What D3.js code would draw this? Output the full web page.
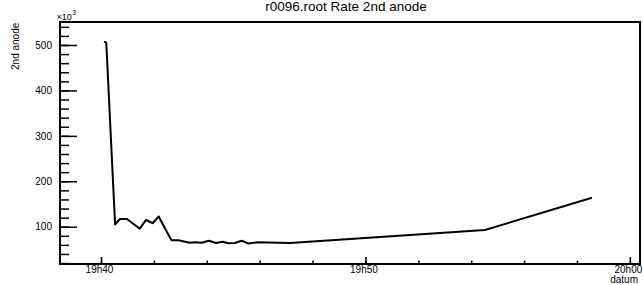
<!DOCTYPE html>
<html>
<head>
<meta charset="utf-8">
<script src="https://cdn.jsdelivr.net/npm/d3@7"></script>
<style>
  html, body { margin: 0; padding: 0; background: #fff; }
  svg { display: block; font-family: "Liberation Sans", Arial, Helvetica, sans-serif; }
</style>
</head>
<body>
<svg id="chart" width="643" height="285"></svg>
<script>
// ---- data ----
const times = ["19:40:07", "19:40:12", "19:40:32", "19:40:43", "19:40:59", "19:41:28", "19:41:42",
  "19:41:57", "19:42:11", "19:42:25", "19:42:40", "19:42:56", "19:43:21", "19:43:33",
  "19:43:48", "19:44:05", "19:44:21", "19:44:36", "19:44:49", "19:45:04", "19:45:19",
  "19:45:34", "19:45:56", "19:47:09", "19:54:31", "19:58:34"];
const rates = [507.5, 505, 104.8, 117, 117, 95.6, 114.7,
  107.7, 122.5, 96.7, 70.3, 70.3, 64.8, 65.6,
  64.8, 69.2, 64.1, 66.8, 63.5, 64.1, 69.2,
  63.0, 65.6, 64.1, 92.7, 163.8];
const xMajorTicks = ["19:40:00", "19:50:00", "20:00:00"];
const xTickLabels = ["19h40", "19h50", "20h00"];
const yMajorTicks = [100, 200, 300, 400, 500];
const yTickLabels = ["100", "200", "300", "400", "500"];
const titleText = "r0096.root Rate 2nd anode";
const xTitle = "datum";
const yTitle = "2nd anode";

// ---- layout ----
const W = 643, H = 285;
const L = 60, R = 640, T = 22, B = 264;
const parse = d3.timeParse("%H:%M:%S");
const svg = d3.select("#chart");

const x = d3.scaleTime()
  .domain([parse("19:38:27"), parse("20:00:23")])
  .range([L, R]);
const y = d3.scaleLinear()
  .domain([17.9, 550.6])
  .range([B, T]);

const data = times.map((t, i) => ({ t: parse(t), v: rates[i] }));

// minor ticks
const xMinor = d3.timeMinute.every(2).range(parse("19:38:27"), parse("20:00:23"));
const yMinor = d3.range(20, 551, 20);

const fs = 10;

// X axis (ticks pointing up, inside)
const xAxisMinor = d3.axisBottom(x).tickValues(xMinor).tickSize(-3.5).tickFormat("");
svg.append("g").attr("transform", `translate(0,${B})`).call(xAxisMinor)
  .call(g => g.select(".domain").remove())
  .call(g => g.selectAll("line").attr("stroke", "#000").attr("stroke-width", 1.5));

const xLabelMap = new Map(xMajorTicks.map((t, i) => [+parse(t), xTickLabels[i]]));
const xAxisMajor = d3.axisBottom(x).tickValues(xMajorTicks.map(parse)).tickSize(-7).tickPadding(2)
  .tickFormat(d => xLabelMap.get(+d));
svg.append("g").attr("transform", `translate(0,${B})`).call(xAxisMajor)
  .call(g => g.select(".domain").remove())
  .call(g => g.selectAll("line").attr("stroke", "#000").attr("stroke-width", 1.5))
  .call(g => g.selectAll("text").attr("fill", "#000").attr("font-size", fs)
    .attr("font-family", "Liberation Sans, Arial, sans-serif").attr("dx", -2));

// Y axis (ticks pointing right, inside)
const yAxisMinor = d3.axisLeft(y).tickValues(yMinor).tickSize(-9).tickFormat("");
svg.append("g").attr("transform", `translate(${L},0)`).call(yAxisMinor)
  .call(g => g.select(".domain").remove())
  .call(g => g.selectAll("line").attr("stroke", "#000").attr("stroke-width", 1.5));

const yAxisMajor = d3.axisLeft(y).tickValues(yMajorTicks).tickSize(-17).tickPadding(8)
  .tickFormat((d, i) => yTickLabels[i]);
svg.append("g").attr("transform", `translate(${L},0)`).call(yAxisMajor)
  .call(g => g.select(".domain").remove())
  .call(g => g.selectAll("line").attr("stroke", "#000").attr("stroke-width", 1.5))
  .call(g => g.selectAll("text").attr("fill", "#000").attr("font-size", fs)
    .attr("font-family", "Liberation Sans, Arial, sans-serif"));

// Frame
svg.append("rect")
  .attr("x", L).attr("y", T).attr("width", R - L).attr("height", B - T)
  .attr("fill", "none").attr("stroke", "#000").attr("stroke-width", 2);

// Data line
const line = d3.line().x(d => x(d.t)).y(d => y(d.v));
svg.append("path").datum(data)
  .attr("d", line)
  .attr("fill", "none").attr("stroke", "#000").attr("stroke-width", 2)
  .attr("stroke-linejoin", "round");

// Title
svg.append("text")
  .attr("x", 346).attr("y", 11)
  .attr("text-anchor", "middle")
  .attr("font-size", 13.5)
  .attr("fill", "#000")
  .text(titleText);

// X title
svg.append("text")
  .attr("x", 638).attr("y", 283)
  .attr("text-anchor", "end")
  .attr("font-size", fs)
  .attr("fill", "#000")
  .text(xTitle);

// Y title
svg.append("text")
  .attr("transform", `translate(19.3,22.7) rotate(-90)`)
  .attr("text-anchor", "end")
  .attr("font-size", fs)
  .attr("fill", "#000")
  .text(yTitle);

// x10^3 multiplier
const mult = svg.append("text")
  .attr("x", 56.5).attr("y", 20)
  .attr("font-size", 9)
  .attr("fill", "#000");
mult.append("tspan").text("\u00d710");
mult.append("tspan").attr("font-size", 6.5).attr("dy", -5.5).attr("dx", 0.5).text("3");
</script>
</body>
</html>
